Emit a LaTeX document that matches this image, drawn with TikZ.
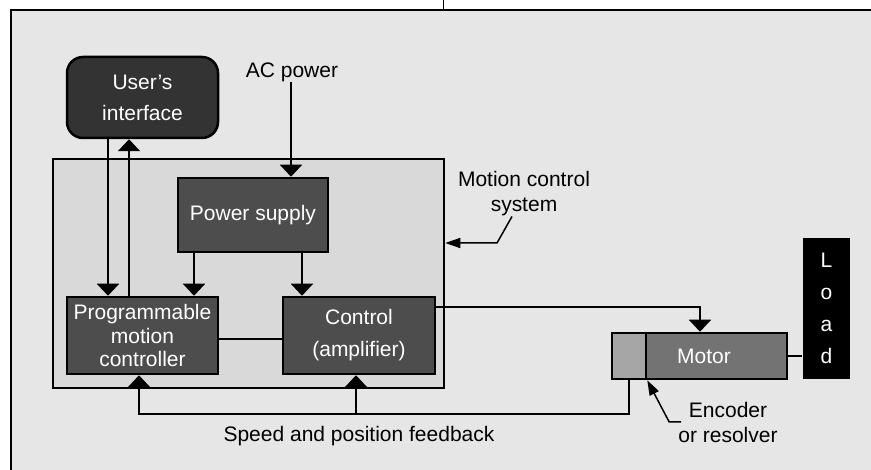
\documentclass[tikz,border=0pt]{standalone}
\usepackage{fontspec}
\setmainfont{Liberation Sans}
\usetikzlibrary{arrows.meta}

\definecolor{framebg}{HTML}{E6E6E6}
\definecolor{sysbg}{HTML}{D9D9D9}
\definecolor{uigray}{HTML}{333333}
\definecolor{blockgray}{HTML}{4D4D4D}
\definecolor{motorgray}{HTML}{737373}
\definecolor{encgray}{HTML}{A6A6A6}

\begin{document}
\begin{tikzpicture}[
        x=1pt, y=-1pt,
        every node/.style={font=\fontsize{21}{25}\selectfont},
        block/.style={rectangle, draw=black, line width=2.5pt, fill=blockgray, text=white, align=center, inner sep=0pt},
        label/.style={align=center, inner sep=0pt},
        link/.style={-{Triangle[width=22pt,length=12pt]}, line width=2pt},
        leader/.style={-{Triangle[width=10pt,length=15pt]}, line width=1.5pt}
    ]
    \useasboundingbox (0,0) rectangle (871,470);

    % Frame
    \fill[framebg] (11,10) rectangle (871,470);
    \draw[line width=1.5pt] (11,470) -- (11,10) -- (871,10);
    \draw[line width=1pt] (443,0) -- (443,10);

    % Motion control system
    \node[rectangle, draw=black, line width=2.5pt, fill=sysbg, minimum width=391pt, minimum height=229pt, inner sep=0pt] (sys) at (248.5,273.5) {};

    % Blocks
    \node[block, fill=uigray, rounded corners=16pt, minimum width=151pt, minimum height=81pt, font=\fontsize{21}{31}\selectfont] (ui) at (142.5,97.5) {User's\\interface};
    \node[block, minimum width=150pt, minimum height=74pt] (ps) at (253,215) {Power supply};
    \node[block, minimum width=151pt, minimum height=77pt, font=\fontsize{21}{23.5}\selectfont] (pmc) at (142.5,335.5) {Programmable\\motion\\controller};
    \node[block, minimum width=152pt, minimum height=77pt, font=\fontsize{21}{32}\selectfont] (ctrl) at (359,335.5) {Control\\(amplifier)};

    % Motor, encoder and load
    \node[block, fill=encgray, minimum width=34pt, minimum height=46pt] (enc) at (629,356) {};
    \node[block, fill=motorgray, minimum width=141pt, minimum height=46pt] (motor) at (716.5,356) {\hspace*{-25pt}Motor};
    \node[block, fill=black, draw=none, minimum width=47pt, minimum height=141pt, font=\fontsize{21}{32}\selectfont] (load) at (826.5,308.5) {L\\o\\a\\d};

    % Labels
    \node[label] (acp) at (292,72) {AC power};
    \node[label] (mcs) at (524,194) {Motion control\\system};
    \node[label] (encl) at (728,422) {Encoder\\or resolver};
    \node[label] (fbl) at (359,436) {Speed and position feedback};
    \coordinate (mcsbend) at (497,243);
    \coordinate (fb) at (629,414);

    % Connections
    \draw[link] ([xshift=-34.5pt]ui.south) -- ([xshift=-34.5pt]pmc.north);
    \draw[link] ([xshift=-13.5pt]pmc.north) -- ([xshift=-13.5pt]ui.south);
    \draw[link] (acp.south -| 291,0) -- (ps.north -| 291,0);
    \draw[link] ([xshift=-59pt]ps.south) -- ([xshift=-59pt]ps.south |- pmc.north);
    \draw[link] ([xshift=49pt]ps.south) -- ([xshift=49pt]ps.south |- ctrl.north);
    \draw[line width=2pt] ([yshift=-3.5pt]pmc.east) -- ([yshift=-3.5pt]ctrl.west);
    \draw[link] ([yshift=28.5pt]ctrl.east) -| ([xshift=-16.5pt]motor.north);
    \draw[line width=2pt] (motor.east) -- (motor.east -| load.west);

    % Feedback
    \draw[link] (enc.south) -- (fb) -| ([xshift=-3.5pt]pmc.south);
    \draw[link] ([xshift=-3pt]ctrl.south |- fb) -- ([xshift=-3pt]ctrl.south);

    % Leaders
    \draw[leader] ([xshift=-12pt]mcs.south) -- (mcsbend) -- (mcsbend -| sys.east);
    \draw[leader] ([xshift=3pt]encl.west) -- ++(-12,0) -- (enc.south east);
\end{tikzpicture}
\end{document}
